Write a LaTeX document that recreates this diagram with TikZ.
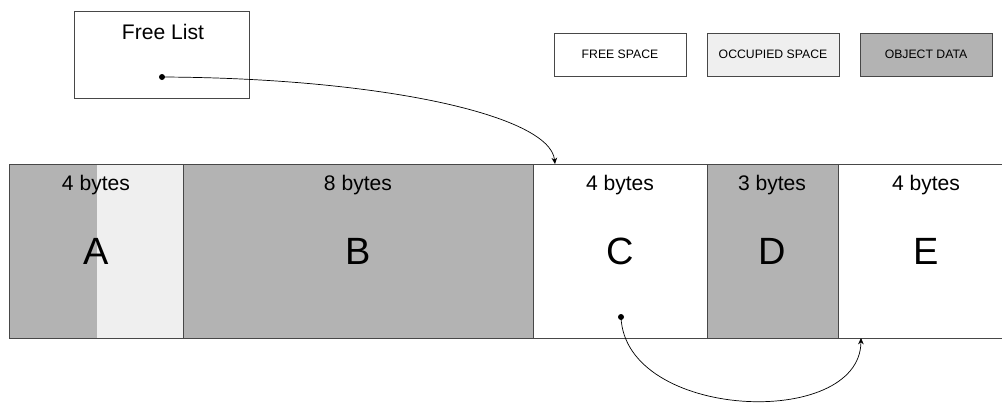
\documentclass[tikz,border=0pt]{standalone}
\usepackage{fontspec}
\setmainfont{Liberation Sans}
\usepackage{xcolor}
\usepackage{tikz}
\usetikzlibrary{arrows.meta}
\definecolor{objgray}{HTML}{B3B3B3}
\definecolor{occgray}{HTML}{EFEFEF}
\definecolor{edgegray}{HTML}{474747}
\newlength{\px}
\setlength{\px}{0.025cm}
\tikzstyle{cell} = [rectangle, draw=edgegray, line width=0.6pt, inner sep=0pt, anchor=north west, minimum height=174\px]
\tikzstyle{legend} = [rectangle, draw=edgegray, line width=0.6pt, inner sep=0pt, minimum width=132\px, minimum height=43\px, font=\fontsize{8.7}{10}\selectfont]
\tikzstyle{bytes} = [font=\fontsize{15}{18}\selectfont]
\tikzstyle{letter} = [font=\fontsize{27}{32}\selectfont]
\tikzstyle{arrow} = [line width=0.5pt, -{Stealth[length=4.5pt, width=4pt]}]

\begin{document}
\begin{tikzpicture}[x=0.025cm, y=-0.025cm]
\useasboundingbox (0,0) rectangle (1002,403);

% free list head
\node (freelist) [cell, minimum width=175\px, minimum height=87\px] at (74,11) {};
\node (freelisttitle) [bytes] at (163,32) {Free List};
\coordinate (flhead) at (162,77);

% legend
\node (legfree) [legend, fill=white] at (620,54.5) {FREE SPACE};
\node (legocc) [legend, fill=occgray] at (773,54.5) {OCCUPIED SPACE};
\node (legobj) [legend, fill=objgray] at (926,54.5) {OBJECT DATA};

% memory cells
\node (cellA) [cell, minimum width=174\px, fill=occgray,
  path picture={\fill[objgray] (path picture bounding box.north west) rectangle ++(88\px,-174\px);}] at (9,164) {};
\node (cellB) [cell, minimum width=350\px, fill=objgray] at (183,164) {};
\node (cellC) [cell, minimum width=174\px, fill=white] at (533,164) {};
\node (cellD) [cell, minimum width=131\px, fill=objgray] at (707,164) {};
\node (cellE) [cell, minimum width=180\px, fill=white] at (838,164) {};

\node (bytesA) [bytes] at (96,185) {4 bytes};
\node (bytesB) [bytes] at (358,185) {8 bytes};
\node (bytesC) [bytes] at (620,185) {4 bytes};
\node (bytesD) [bytes] at (772,185) {3 bytes};
\node (bytesE) [bytes] at (926,185) {4 bytes};
\node (nameA) [letter] at (96,251) {A};
\node (nameB) [letter] at (358,251) {B};
\node (nameC) [letter] at (620,251) {C};
\node (nameD) [letter] at (772,251) {D};
\node (nameE) [letter] at (926,251) {E};

% pointers
\coordinate (cnext) at (621,317);
\coordinate (ctop) at (555,164);
\coordinate (ebottom) at (861,338);
\fill (flhead) circle (3);
\fill (cnext) circle (3);
\draw [arrow] (flhead) .. controls (380,78) and (550,115) .. (ctop);
\draw [arrow] (cnext) .. controls (625,420) and (860,430) .. (ebottom);
\end{tikzpicture}
\end{document}
